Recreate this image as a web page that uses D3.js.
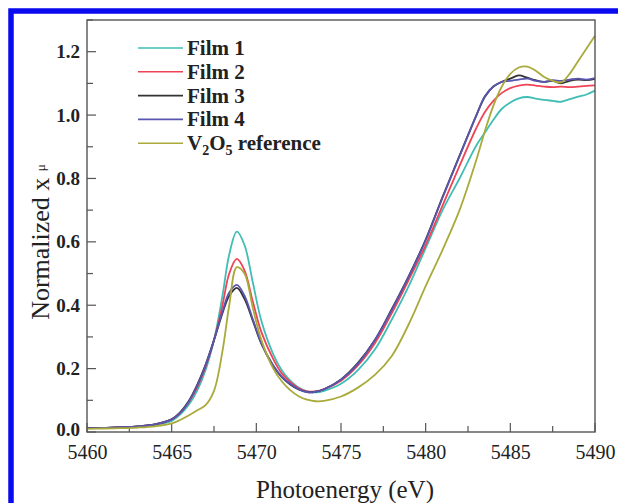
<!DOCTYPE html>
<html><head><meta charset="utf-8">
<script src="https://cdn.jsdelivr.net/npm/d3@7"></script>
<style>html,body{margin:0;padding:0;background:#fff;}svg{display:block;}</style>
</head><body>
<svg id="chart" width="618" height="503"></svg>
<script>
const energy = [5460,5461,5462,5463,5464,5465,5465.5,5466,5466.5,5467,5467.5,5468,5468.4,5468.85,5469.3,5469.8,5470.3,5471,5471.5,5472,5472.5,5473,5473.5,5474,5475,5476,5477,5478,5479,5480,5481,5482,5483,5483.5,5484,5484.5,5485,5485.5,5486,5486.5,5487,5487.5,5488,5488.5,5489,5489.5,5490];
const film1 = [0.012,0.013,0.015,0.017,0.022,0.035,0.055,0.085,0.13,0.195,0.29,0.43,0.56,0.632,0.59,0.47,0.35,0.245,0.195,0.162,0.14,0.128,0.125,0.13,0.152,0.195,0.26,0.355,0.46,0.58,0.70,0.80,0.905,0.945,0.985,1.02,1.04,1.053,1.057,1.052,1.048,1.045,1.042,1.05,1.058,1.065,1.077];
const film2 = [0.012,0.013,0.015,0.018,0.024,0.04,0.06,0.093,0.14,0.205,0.29,0.40,0.50,0.546,0.51,0.41,0.315,0.23,0.185,0.158,0.138,0.128,0.128,0.135,0.162,0.21,0.28,0.375,0.48,0.59,0.715,0.84,0.96,1.01,1.045,1.07,1.085,1.093,1.096,1.093,1.09,1.088,1.09,1.088,1.09,1.092,1.094];
const film3 = [0.012,0.013,0.015,0.018,0.024,0.04,0.062,0.097,0.148,0.212,0.29,0.375,0.43,0.455,0.42,0.35,0.278,0.208,0.173,0.15,0.134,0.126,0.127,0.135,0.166,0.218,0.29,0.388,0.492,0.607,0.742,0.872,1.0,1.058,1.09,1.105,1.115,1.125,1.118,1.11,1.105,1.108,1.10,1.108,1.112,1.11,1.114];
const film4 = [0.012,0.013,0.015,0.018,0.024,0.04,0.06,0.095,0.145,0.21,0.29,0.38,0.44,0.464,0.43,0.355,0.28,0.21,0.175,0.152,0.135,0.126,0.127,0.135,0.165,0.215,0.29,0.385,0.49,0.605,0.74,0.87,1.0,1.06,1.09,1.105,1.108,1.112,1.115,1.108,1.105,1.11,1.108,1.112,1.115,1.112,1.117];
const v2o5 = [0.01,0.011,0.012,0.014,0.018,0.027,0.038,0.052,0.068,0.085,0.13,0.255,0.40,0.52,0.50,0.39,0.29,0.20,0.16,0.132,0.113,0.102,0.097,0.098,0.112,0.14,0.18,0.24,0.34,0.46,0.575,0.70,0.86,0.95,1.03,1.09,1.13,1.15,1.153,1.14,1.12,1.108,1.103,1.13,1.17,1.21,1.25];

const seriesNames = ["Film 1","Film 2","Film 3","Film 4","V2O5 reference"];
const seriesColors = ["#40bdb4","#ee4455","#333333","#5a56b0","#a9aa3a"];
const seriesValues = [film1, film2, film3, film4, v2o5];
const xTicks = [5460,5465,5470,5475,5480,5485,5490];
const yTicks = [0.0,0.2,0.4,0.6,0.8,1.0,1.2];

const svg = d3.select("#chart");
// blue frame
svg.append("rect").attr("x",11).attr("y",11).attr("width",620).attr("height",500).attr("fill","#ffffff").attr("stroke","#0a0af0").attr("stroke-width",5.5);

const L=87, R=595, T=20, B=432;
const x = d3.scaleLinear().domain([5460,5490]).range([L,R]);
const y = d3.scaleLinear().domain([0,1.3]).range([B,T]);

const serif = "'Liberation Serif','Times New Roman',serif";

// minor/major ticks (inward)
const gx = svg.append("g");
d3.range(5460,5490.01,2.5).forEach(v=>{
  const major = Math.abs(v%5)<1e-6;
  gx.append("line").attr("x1",x(v)).attr("x2",x(v)).attr("y1",B).attr("y2",B-(major?9:6)).attr("stroke","#555").attr("stroke-width",1.2);
});
d3.range(0,1.301,0.1).forEach(v=>{
  const major = Math.round(v*10)%2===0;
  gx.append("line").attr("x1",L).attr("x2",L+(major?9:6)).attr("y1",y(v)).attr("y2",y(v)).attr("stroke","#555").attr("stroke-width",1.2);
});

// axes via d3
const xAxis = d3.axisBottom(x).tickValues(xTicks).tickSize(0).tickPadding(13).tickFormat(d3.format("d"));
const gxa = svg.append("g").attr("transform",`translate(0,${B})`).call(xAxis);
gxa.select(".domain").remove();
gxa.selectAll("text").attr("font-family",serif).attr("font-size",20).attr("fill","#222");

const yAxis = d3.axisLeft(y).tickValues(yTicks).tickSize(0).tickPadding(7).tickFormat(d3.format(".1f"));
const gya = svg.append("g").attr("transform",`translate(${L},0)`).call(yAxis);
gya.select(".domain").remove();
gya.selectAll("text").attr("font-family",serif).attr("font-size",19).attr("font-weight","bold").attr("fill","#222");
gya.selectAll("text").filter(d=>d===0).attr("dy","0.2em");

// lines
const line = d3.line().x((d,i)=>x(energy[i])).y(d=>y(d)).curve(d3.curveCatmullRom.alpha(0.5));
[0,1,2,3,4].forEach(k=>{
  svg.append("path").datum(seriesValues[k]).attr("d",line).attr("fill","none")
    .attr("stroke",seriesColors[k]).attr("stroke-width",1.8).attr("stroke-linejoin","round");
});

// plot frame
svg.append("rect").attr("x",L).attr("y",T).attr("width",R-L).attr("height",B-T).attr("fill","none").attr("stroke","#555").attr("stroke-width",1.4);

// legend
const lg = svg.append("g");
seriesNames.forEach((n,i)=>{
  const yy = 48 + i*23.8;
  lg.append("line").attr("x1",138).attr("x2",183).attr("y1",yy).attr("y2",yy).attr("stroke",seriesColors[i]).attr("stroke-width",1.6);
  const t = lg.append("text").attr("x",187).attr("y",yy+7).attr("font-family",serif).attr("font-size",21).attr("font-weight","bold").attr("fill","#222");
  if (n.startsWith("V2O5")) {
    t.append("tspan").text("V");
    t.append("tspan").text("2").attr("font-size",14).attr("dy",5);
    t.append("tspan").text("O").attr("dy",-5);
    t.append("tspan").text("5").attr("font-size",14).attr("dy",5);
    t.append("tspan").text(" reference").attr("dy",-5);
  } else t.text(n);
});

// axis titles
svg.append("text").attr("x",345).attr("y",498).attr("text-anchor","middle")
  .attr("font-family",serif).attr("font-size",25).attr("fill","#222").text("Photoenergy (eV)");
const yt = svg.append("text").attr("transform","translate(49,242) rotate(-90)").attr("text-anchor","middle")
  .attr("font-family",serif).attr("font-size",26).attr("fill","#222");
yt.append("tspan").text("Normalized x ");
yt.append("tspan").text("μ").attr("font-size",13).attr("dy",-4);
</script>
</body></html>
